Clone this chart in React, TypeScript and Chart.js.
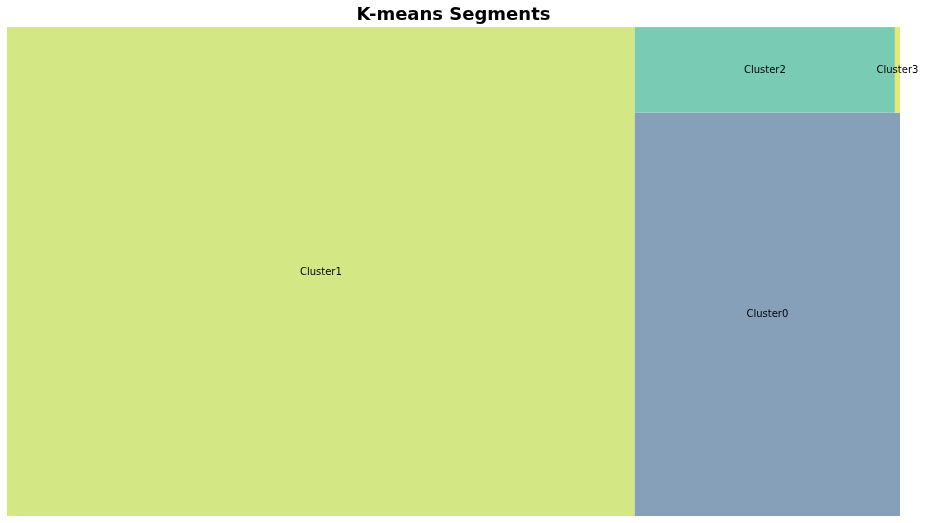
import React, { useEffect, useRef } from "react";
import { Chart, registerables } from "chart.js";

Chart.register(...registerables);

const labels = ["Cluster1", "Cluster0", "Cluster2", "Cluster3"];
const sizes = [703, 245, 51, 1];
const colors = ["#d3e884", "#86a0ba", "#7acbb3", "#e2ea72"];

type Rect = { x: number; y: number; dx: number; dy: number };

function layoutRow(s: number[], x: number, y: number, dx: number, dy: number): Rect[] {
  const cov = s.reduce((a, b) => a + b, 0);
  const w = cov / dy;
  const out: Rect[] = [];
  for (const v of s) {
    out.push({ x, y, dx: w, dy: v / w });
    y += v / w;
  }
  return out;
}
function layoutCol(s: number[], x: number, y: number, dx: number, dy: number): Rect[] {
  const cov = s.reduce((a, b) => a + b, 0);
  const h = cov / dx;
  const out: Rect[] = [];
  for (const v of s) {
    out.push({ x, y, dx: v / h, dy: h });
    x += v / h;
  }
  return out;
}
function layout(s: number[], x: number, y: number, dx: number, dy: number) {
  return dx >= dy ? layoutRow(s, x, y, dx, dy) : layoutCol(s, x, y, dx, dy);
}
function leftover(s: number[], x: number, y: number, dx: number, dy: number): [number, number, number, number] {
  const cov = s.reduce((a, b) => a + b, 0);
  if (dx >= dy) {
    const w = cov / dy;
    return [x + w, y, dx - w, dy];
  }
  const h = cov / dx;
  return [x, y + h, dx, dy - h];
}
function worst(s: number[], x: number, y: number, dx: number, dy: number) {
  return Math.max(...layout(s, x, y, dx, dy).map((r) => Math.max(r.dx / r.dy, r.dy / r.dx)));
}
function squarify(s: number[], x: number, y: number, dx: number, dy: number): Rect[] {
  if (s.length === 0) return [];
  if (s.length === 1) return layout(s, x, y, dx, dy);
  let i = 1;
  while (i < s.length && worst(s.slice(0, i), x, y, dx, dy) >= worst(s.slice(0, i + 1), x, y, dx, dy)) i++;
  const cur = s.slice(0, i);
  const rem = s.slice(i);
  const [lx, ly, ldx, ldy] = leftover(cur, x, y, dx, dy);
  return layout(cur, x, y, dx, dy).concat(squarify(rem, lx, ly, ldx, ldy));
}

export default function App() {
  const ref = useRef<HTMLCanvasElement>(null);
  useEffect(() => {
    if (!ref.current) return;
    const total = sizes.reduce((a, b) => a + b, 0);
    const norm = sizes.map((v) => (v * 100 * 100) / total);
    const rects = squarify(norm, 0, 0, 100, 100);

    const treemapPlugin = {
      id: "treemap",
      beforeDatasetsDraw(chart: any) {
        const { ctx, scales } = chart;
        const xs = scales.x;
        const ys = scales.y;
        ctx.save();
        rects.forEach((r, i) => {
          const x0 = xs.getPixelForValue(r.x);
          const x1 = xs.getPixelForValue(r.x + r.dx);
          const y0 = ys.getPixelForValue(r.y + r.dy);
          const y1 = ys.getPixelForValue(r.y);
          ctx.fillStyle = colors[i];
          ctx.fillRect(x0, y0, x1 - x0, y1 - y0);
        });
        ctx.fillStyle = "#000";
        ctx.font = "10px 'DejaVu Sans'";
        ctx.textAlign = "center";
        ctx.textBaseline = "middle";
        rects.forEach((r, i) => {
          const cx = xs.getPixelForValue(r.x + r.dx / 2);
          const cy = ys.getPixelForValue(r.y + r.dy / 2);
          ctx.fillText(labels[i], cx, cy + 0.5);
        });
        ctx.restore();
      },
    };

    const chart = new Chart(ref.current, {
      type: "scatter",
      data: {
        datasets: [
          {
            data: rects.map((r) => ({ x: r.x + r.dx / 2, y: r.y + r.dy / 2 })),
            pointRadius: 0,
          },
        ],
      },
      options: {
        animation: false,
        responsive: false,
        maintainAspectRatio: false,
        layout: { padding: { left: 7, right: 25, top: 0, bottom: 7 } },
        scales: {
          x: { display: false, min: 0, max: 100 },
          y: { display: false, min: 0, max: 100 },
        },
        plugins: {
          legend: { display: false },
          tooltip: { enabled: false },
          title: {
            display: true,
            text: "K-means Segments",
            color: "#000",
            font: { family: "'DejaVu Sans'", size: 18, weight: "bold" },
            padding: { top: 4.5, bottom: 1 },
          },
        },
      },
      plugins: [treemapPlugin],
    });
    return () => chart.destroy();
  }, []);
  return (
    <div style={{ position: "absolute", left: 0, top: 0, width: 925, height: 523, background: "#fff" }}>
      <canvas ref={ref} width={925} height={523} style={{ width: 925, height: 523 }} />
    </div>
  );
}
